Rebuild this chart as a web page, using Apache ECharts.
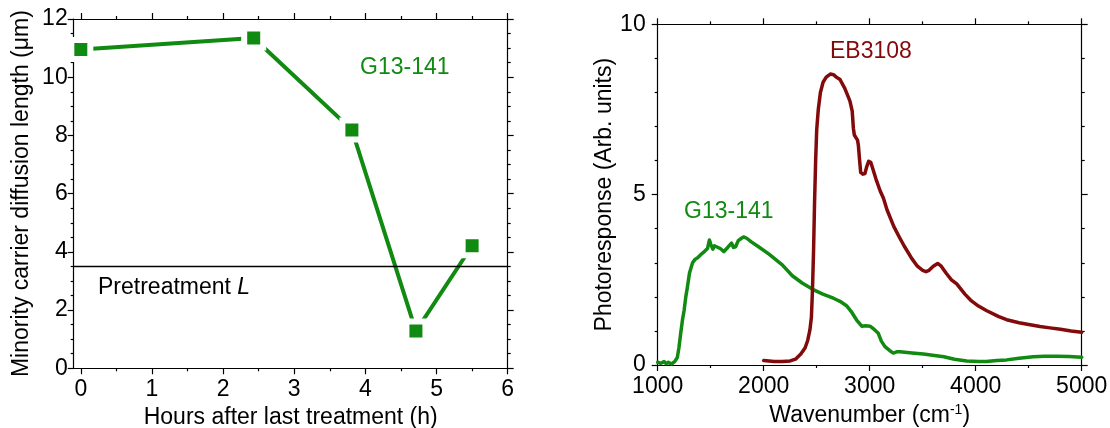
<!DOCTYPE html>
<html><head><meta charset="utf-8">
<script src="https://cdn.jsdelivr.net/npm/echarts@6/dist/echarts.min.js"></script>
<style>html,body{margin:0;padding:0;background:#fff}#c{width:1110px;height:428px}</style>
</head><body><div id="c"></div>
<script>
// ---- Left panel data ----
const hours = [0, 2.43, 3.81, 4.71, 5.50];
const diffLength = [10.95, 11.35, 8.19, 1.28, 4.21];
const pretreatmentL = 3.5;
const hourTicks = [0, 1, 2, 3, 4, 5, 6];
const hourMinorTicks = [0.5, 1.5, 2.5, 3.5, 4.5, 5.5];

// ---- Right panel data ----
const g13Wavenumber = [1000,1030,1060,1080,1100,1130,1160,1185,1200,1217,1235,1249,1265,1281,1300,1329,1352,1377,1410,1440,1470,1488,1500,1520,1535,1552,1590,1625,1660,1696,1715,1735,1760,1790,1810,1840,1880,1951,2047,2175,2270,2366,2462,2558,2657,2720,2781,2830,2877,2925,2960,3003,3040,3081,3110,3144,3190,3223,3260,3286,3400,3506,3611,3700,3800,3915,4026,4100,4200,4292,4409,4543,4650,4764,4880,5000];
const g13Response = [0.08,0.05,0.10,0.04,0.08,0.03,0.10,0.22,0.50,0.93,1.35,1.60,2.00,2.30,2.70,3.00,3.10,3.15,3.25,3.33,3.42,3.67,3.55,3.40,3.50,3.48,3.42,3.33,3.45,3.58,3.45,3.47,3.65,3.72,3.76,3.72,3.62,3.47,3.26,2.94,2.62,2.40,2.22,2.08,1.96,1.87,1.74,1.55,1.32,1.14,1.15,1.14,1.05,0.93,0.70,0.54,0.42,0.35,0.39,0.39,0.35,0.32,0.28,0.24,0.17,0.12,0.10,0.10,0.13,0.15,0.20,0.24,0.26,0.26,0.25,0.23];
const ebWavenumber = [2000,2100,2175,2250,2300,2350,2390,2415,2436,2450,2460,2470,2480,2490,2500,2515,2535,2560,2590,2628,2660,2685,2720,2765,2813,2835,2846,2855,2885,2893,2905,2915,2935,2955,2970,2990,3010,3030,3060,3100,3129,3164,3228,3280,3324,3396,3450,3500,3531,3560,3600,3641,3675,3720,3771,3821,3898,3960,4026,4100,4218,4292,4409,4500,4607,4700,4800,4900,5000];
const ebResponse = [0.13,0.10,0.10,0.12,0.17,0.32,0.50,0.72,1.03,1.40,2.20,3.30,4.80,6.00,6.90,7.50,8.00,8.30,8.45,8.54,8.52,8.45,8.38,8.12,7.75,7.45,6.95,6.75,6.60,6.45,6.00,5.65,5.60,5.62,5.80,5.98,5.95,5.75,5.45,5.10,4.90,4.55,4.06,3.75,3.50,3.13,2.90,2.78,2.74,2.78,2.90,2.98,2.90,2.70,2.50,2.38,2.08,1.88,1.73,1.60,1.42,1.33,1.24,1.19,1.13,1.09,1.05,1.00,0.96];

const GREEN = '#108a10';
const RED = '#820a0a';
const FONT = "'Liberation Sans', Arial, sans-serif";
const FS = 23;
const AX = { color: '#000', width: 1.2 };

function pairs(xs, ys) { return xs.map((x, i) => [x, ys[i]]); }
function plain(v) { return String(v); }

function baseAxis(extra) {
  return Object.assign({
    type: 'value',
    axisLine: { show: true, onZero: false, lineStyle: AX },
    axisTick: { show: true, inside: false, length: 6, lineStyle: AX },
    axisLabel: { show: false },
    splitLine: { show: false },
    nameTextStyle: { fontFamily: FONT, fontSize: FS, color: '#000' }
  }, extra);
}
function labelStyle(margin, extra) {
  return Object.assign({ show: true, fontFamily: FONT, fontSize: FS, color: '#000', margin: margin, formatter: plain }, extra || {});
}

const chart = echarts.init(document.getElementById('c'), null, { renderer: 'canvas' });
chart.setOption({
  animation: false,
  backgroundColor: '#fff',
  grid: [
    { left: 73.7, top: 19, width: 434, height: 349.3, outerBoundsMode: 'none', containLabel: false },
    { left: 657.7, top: 24.3, width: 424, height: 340.7, outerBoundsMode: 'none', containLabel: false }
  ],
  xAxis: [
    baseAxis({ gridIndex: 0, position: 'bottom', min: -0.1, max: 6,
      axisTick: { show: true, length: 6, lineStyle: AX, customValues: hourTicks },
      axisLabel: labelStyle(10, { customValues: hourTicks }),
      name: 'Hours after last treatment (h)', nameLocation: 'middle', nameGap: 35 }),
    baseAxis({ gridIndex: 0, position: 'bottom', min: -0.1, max: 6,
      axisLine: { show: false, onZero: false },
      axisTick: { show: true, length: 3, lineStyle: AX, customValues: hourMinorTicks } }),
    baseAxis({ gridIndex: 0, position: 'top', min: -0.1, max: 6,
      axisTick: { show: true, length: 6, lineStyle: AX, customValues: hourTicks } }),
    baseAxis({ gridIndex: 0, position: 'top', min: -0.1, max: 6,
      axisLine: { show: false, onZero: false },
      axisTick: { show: true, length: 3, lineStyle: AX, customValues: hourMinorTicks } }),
    baseAxis({ gridIndex: 1, position: 'bottom', min: 1000, max: 5000, interval: 1000,
      minorTick: { show: true, splitNumber: 2, length: 3, lineStyle: AX },
      axisLabel: labelStyle(10),
      name: '{t|Wavenumber (cm}{s|-1}{t|)}', nameLocation: 'middle', nameGap: 35,
      nameTextStyle: { fontFamily: FONT, fontSize: FS, color: '#000',
        rich: { t: { fontFamily: FONT, fontSize: FS, color: '#000', lineHeight: 26 },
                s: { fontFamily: FONT, fontSize: 14, color: '#000', lineHeight: 16, verticalAlign: 'top' } } } }),
    baseAxis({ gridIndex: 1, position: 'top', min: 1000, max: 5000, interval: 1000,
      minorTick: { show: true, splitNumber: 2, length: 3, lineStyle: AX } })
  ],
  yAxis: [
    baseAxis({ gridIndex: 0, position: 'left', min: 0, max: 12, interval: 2,
      minorTick: { show: true, splitNumber: 4, length: 3, lineStyle: AX },
      axisLabel: labelStyle(6),
      name: 'Minority carrier diffusion length (\u03bcm)', nameLocation: 'middle', nameGap: 41 }),
    baseAxis({ gridIndex: 0, position: 'right', min: 0, max: 12, interval: 2,
      minorTick: { show: true, splitNumber: 4, length: 3, lineStyle: AX } }),
    baseAxis({ gridIndex: 1, position: 'left', min: 0, max: 10, interval: 5,
      minorTick: { show: true, splitNumber: 5, length: 3, lineStyle: AX },
      axisLabel: labelStyle(12),
      name: 'Photoresponse (Arb. units)', nameLocation: 'middle', nameGap: 39 }),
    baseAxis({ gridIndex: 1, position: 'right', min: 0, max: 10, interval: 5,
      minorTick: { show: true, splitNumber: 5, length: 3, lineStyle: AX } })
  ],
  series: [
    {
      type: 'line', xAxisIndex: 0, yAxisIndex: 0,
      data: pairs(hours, diffLength),
      symbol: 'rect', symbolSize: 19,
      itemStyle: { color: GREEN, borderColor: '#fff', borderWidth: 6 },
      lineStyle: { color: GREEN, width: 4 },
      z: 3,
      markLine: {
        silent: true, symbol: ['none', 'none'], label: { show: false },
        lineStyle: { color: '#000', width: 1.3, type: 'solid' },
        emphasis: { disabled: true },
        data: [{ yAxis: pretreatmentL }]
      }
    },
    {
      type: 'line', xAxisIndex: 4, yAxisIndex: 2,
      data: pairs(g13Wavenumber, g13Response),
      showSymbol: false, symbol: 'none',
      lineStyle: { color: GREEN, width: 3.5, cap: 'round', join: 'round' }
    },
    {
      type: 'line', xAxisIndex: 4, yAxisIndex: 2,
      data: pairs(ebWavenumber, ebResponse),
      showSymbol: false, symbol: 'none',
      lineStyle: { color: RED, width: 3.5, cap: 'round', join: 'round' }
    }
  ],
  graphic: [
    { type: 'text', x: 360, y: 67.5, style: { text: 'G13-141', fill: GREEN, font: FS + 'px ' + FONT, textVerticalAlign: 'middle' } },
    { type: 'text', x: 98, y: 288, style: {
        text: '{n|Pretreatment }{i|L}', fill: '#000', font: FS + 'px ' + FONT, textVerticalAlign: 'middle',
        rich: { n: { fontFamily: FONT, fontSize: FS, fill: '#000' },
                i: { fontFamily: FONT, fontSize: FS, fontStyle: 'italic', fill: '#000' } } } },
    { type: 'text', x: 830, y: 52, style: { text: 'EB3108', fill: RED, font: FS + 'px ' + FONT, textVerticalAlign: 'middle' } },
    { type: 'text', x: 684, y: 212, style: { text: 'G13-141', fill: GREEN, font: FS + 'px ' + FONT, textVerticalAlign: 'middle' } }
  ]
});
</script>
</body></html>
